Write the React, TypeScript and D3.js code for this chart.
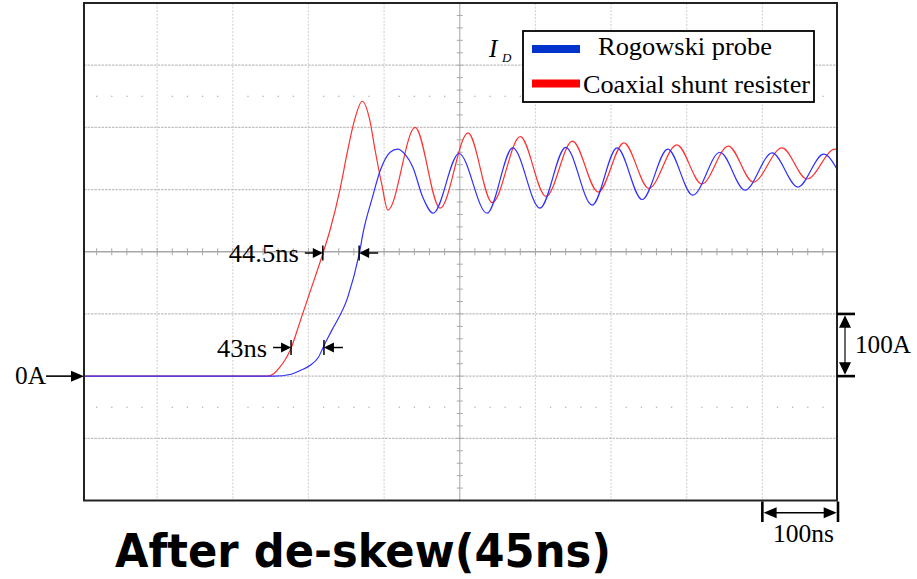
import React from "react";
import * as d3 from "d3";

// Coaxial shunt resister trace: [time ns, current A]
const redTrace: [number, number][] = [
  [0, 0], [246, 0], [254, 4], [262, 14], [270, 28], [277, 45], [289, 88], [302, 135],
  [319, 197], [329, 237], [342, 302], [352, 364], [361, 412], [371, 442], [381, 412],
  [388, 364], [397, 308], [405, 267], [441, 400], [474, 270], [511, 391], [543, 279],
  [580, 385], [614, 289], [649, 378], [683, 296], [717, 375], [750, 302], [787, 372],
  [820, 309], [855, 370], [888, 312], [926, 367], [959, 317], [996, 365], [1000, 364],
];

// Rogowski probe trace: [time ns, current A]
const blueTrace: [number, number][] = [
  [0, 0], [255, 0], [277, 3], [289, 9], [302, 17], [313, 30], [322, 53], [331, 74],
  [352, 127], [367, 196], [373, 235], [384, 285], [395, 331], [408, 360], [418, 365],
  [428, 356], [438, 336], [451, 288], [465, 262], [499, 358], [536, 262], [570, 367],
  [606, 270], [640, 368], [675, 275], [708, 367], [741, 284], [775, 365], [808, 291],
  [844, 360], [877, 299], [913, 359], [947, 304], [981, 357], [1000, 330],
];

const timeGrid = [100, 200, 300, 400, 600, 700, 800, 900];
const ampGrid = [-100, 0, 100, 300, 400, 500];
const centerTime = 500;
const centerAmp = 200;
const dottedAmps = [450, -50];
const legendLabels = ["Rogowski probe", "Coaxial shunt resister"];
const skewLabels = ["44.5ns", "43ns"];
const skewRedT = [319, 277];
const skewBlueT = [367, 320.5];
const skewLevelA = [198, 46];
const scaleTime = [900, 1000];
const scaleAmp = [0, 100];
const titleText = "After de-skew(45ns)";

const SERIF = "'Liberation Serif', 'Times New Roman', serif";

function head(tx: number, ty: number, dir: string, len = 11, half = 5.5) {
  let pts: [number, number][];
  if (dir === "right") pts = [[tx, ty], [tx - len, ty - half], [tx - len, ty + half]];
  else if (dir === "left") pts = [[tx, ty], [tx + len, ty - half], [tx + len, ty + half]];
  else if (dir === "up") pts = [[tx, ty], [tx - half, ty + len], [tx + half, ty + len]];
  else pts = [[tx, ty], [tx - half, ty - len], [tx + half, ty - len]];
  return <polygon points={pts.map((p) => p.join(",")).join(" ")} fill="#000" />;
}

export default function App() {
  const W = 917, H = 579;
  const x = d3.scaleLinear().domain([0, 1000]).range([81.5, 838]);
  const y = d3.scaleLinear().domain([-200, 600]).range([500.5, 3]);
  const L = 84, R = 837, T = 3, B = 500.5;
  const line = d3
    .line<[number, number]>()
    .x((d) => x(d[0]))
    .y((d) => y(d[1]))
    .curve(d3.curveMonotoneX);

  const minorT = d3.range(20, 1000, 20);
  const minorA = d3.range(-180, 600, 20);

  return (
    <div>
      <style>{"body{margin:0}"}</style>
      <svg width={W} height={H} style={{ display: "block", background: "#fff" }}>
        <defs>
          <clipPath id="plotclip">
            <rect x={L} y={T} width={R - L} height={B - T} />
          </clipPath>
        </defs>
        {/* grid */}
        {timeGrid.map((t) => (
          <line key={"vt" + t} x1={x(t)} x2={x(t)} y1={T} y2={B} stroke="#d6d6d6" strokeWidth={1.2} strokeDasharray="2,1.5" />
        ))}
        {ampGrid.map((a) => (
          <line key={"ha" + a} x1={L} x2={R} y1={y(a)} y2={y(a)} stroke="#c0c0c0" strokeWidth={1.2} strokeDasharray="2.5,1" />
        ))}
        {dottedAmps.map((a) =>
          minorT.filter((t) => t % 100 !== 0).map((t) => (
            <rect key={"d" + a + "_" + t} x={x(t) - 0.6} y={y(a) - 0.6} width={1.3} height={1.3} fill="#b5b5b5" />
          ))
        )}
        {/* center axes */}
        <line x1={L} x2={R} y1={y(centerAmp)} y2={y(centerAmp)} stroke="#a8a8a8" strokeWidth={1.3} />
        <line x1={x(centerTime)} x2={x(centerTime)} y1={T} y2={B} stroke="#b8b8b8" strokeWidth={1.3} />
        {minorT.map((t) => (
          <line key={"mt" + t} x1={x(t)} x2={x(t)} y1={y(centerAmp) - 3.5} y2={y(centerAmp) + 3.5} stroke="#a8a8a8" strokeWidth={1} />
        ))}
        {minorA.map((a) => (
          <line key={"ma" + a} x1={x(centerTime) - 3} x2={x(centerTime) + 3} y1={y(a)} y2={y(a)} stroke="#a8a8a8" strokeWidth={1} />
        ))}
        {/* traces */}
        <g clipPath="url(#plotclip)">
          <path d={line(redTrace) || ""} fill="none" stroke="#ff3030" strokeWidth={1.2} />
          <path d={line(blueTrace) || ""} fill="none" stroke="#3030ff" strokeWidth={1.2} />
        </g>
        {/* frame */}
        <rect x={L} y={T} width={R - L} height={B - T} fill="none" stroke="#222" strokeWidth={2} />

        {/* legend */}
        <text x={489} y={57} fontFamily={SERIF} fontStyle="italic" fontSize={25}>I</text>
        <text x={502} y={62} fontFamily={SERIF} fontStyle="italic" fontSize={13}>D</text>
        <rect x={523} y={31} width={291} height={71} fill="#fff" stroke="#000" strokeWidth={1.8} />
        <rect x={532} y={45} width={48} height={8} fill="#0033cc" />
        <rect x={532} y={79.5} width={48} height={8} fill="#ff0000" />
        <text x={598} y={55} fontFamily={SERIF} fontSize={25} textLength={174} lengthAdjust="spacingAndGlyphs">{legendLabels[0]}</text>
        <text x={583} y={93} fontFamily={SERIF} fontSize={25} textLength={227} lengthAdjust="spacingAndGlyphs">{legendLabels[1]}</text>

        {/* skew annotations */}
        {skewLabels.map((lab, i) => {
          const yy = y(skewLevelA[i]);
          const xr = x(skewRedT[i]);
          const xb = x(skewBlueT[i]);
          return (
            <g key={"sk" + i}>
              <text x={xr - 24} y={yy + 9} textAnchor="end" fontFamily={SERIF} fontSize={25.5}
                textLength={i === 0 ? 70 : 50} lengthAdjust="spacingAndGlyphs">{lab}</text>
              <line x1={xr - 18} x2={xr - 6} y1={yy} y2={yy} stroke="#000" strokeWidth={1.5} />
              {head(xr, yy, "right", 10, 5)}
              <line x1={xr} x2={xr} y1={yy - 7.5} y2={yy + 7.5} stroke="#000" strokeWidth={1.5} />
              <line x1={xb + 6} x2={xb + 19} y1={yy} y2={yy} stroke="#000" strokeWidth={1.5} />
              {head(xb, yy, "left", 10, 5)}
              <line x1={xb} x2={xb} y1={yy - 7.5} y2={yy + 7.5} stroke="#000" strokeWidth={1.5} />
            </g>
          );
        })}

        {/* 0A marker */}
        <text x={15} y={384} fontFamily={SERIF} fontSize={25.5} textLength={31} lengthAdjust="spacingAndGlyphs">0A</text>
        <line x1={46} x2={74} y1={y(0)} y2={y(0)} stroke="#000" strokeWidth={1.6} />
        {head(L, y(0), "right", 13, 5.5)}

        {/* 100A scale */}
        {scaleAmp.map((a) => (
          <line key={"sa" + a} x1={R} x2={855} y1={y(a)} y2={y(a)} stroke="#000" strokeWidth={2.6} />
        ))}
        <line x1={845} x2={845} y1={y(scaleAmp[1]) + 10} y2={y(scaleAmp[0]) - 10} stroke="#444" strokeWidth={1.6} />
        {head(845, y(scaleAmp[1]) + 1.3, "up", 12.5, 6)}
        {head(845, y(scaleAmp[0]) - 1.3, "down", 12.5, 6)}
        <text x={855} y={353} fontFamily={SERIF} fontSize={25.5} textLength={56} lengthAdjust="spacingAndGlyphs">100A</text>

        {/* 100ns scale */}
        {scaleTime.map((t) => (
          <line key={"st" + t} x1={x(t)} x2={x(t)} y1={B + 1} y2={522} stroke="#000" strokeWidth={2.6} />
        ))}
        <line x1={x(scaleTime[0]) + 10} x2={x(scaleTime[1]) - 10} y1={512.7} y2={512.7} stroke="#000" strokeWidth={1.6} />
        {head(x(scaleTime[0]) + 1.3, 512.7, "left", 13, 5.5)}
        {head(x(scaleTime[1]) - 1.3, 512.7, "right", 13, 5.5)}
        <text x={773} y={542} fontFamily={SERIF} fontSize={25.5} textLength={61} lengthAdjust="spacingAndGlyphs">100ns</text>

        {/* title */}
        <text x={115} y={567} fontFamily="'DejaVu Sans', Verdana, sans-serif" fontWeight="bold" fontSize={46}
          textLength={496} lengthAdjust="spacingAndGlyphs">{titleText}</text>
      </svg>
    </div>
  );
}
